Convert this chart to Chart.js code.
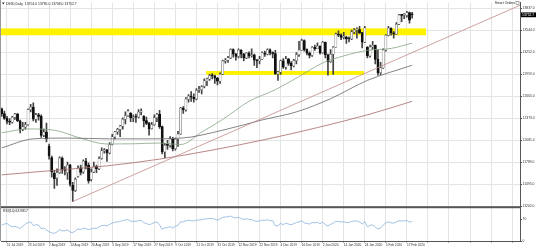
<!DOCTYPE html>
<html>
<head>
<meta charset="utf-8">
<script src="https://cdn.jsdelivr.net/npm/chart.js@4.4.1/dist/chart.umd.min.js"></script>
<style>
  html, body { margin: 0; padding: 0; background: #fff; }
  canvas { display: block; }
</style>
</head>
<body>
<canvas id="chart" width="536" height="250"></canvas>
<script>
// DE30 daily candles, 9 Jul 2019 .. 19 Feb 2020 (bar index 0..156)
const opens = [
  12500, 12437, 12373, 12332, 12323, 12387, 12430, 12341, 12227, 12260,
  12289, 12490, 12522, 12362, 12419, 12400, 12147, 12189, 12000, 11850,
  11640, 11580, 11650, 11840, 11693, 11650, 11750, 11480, 11412, 11600,
  11715, 11660, 11802, 11747, 11560, 11658, 11731, 11701, 11838, 11939,
  11953, 11911, 12025, 12126, 12192, 12226, 12269, 12360, 12410, 12440,
  12381, 12390, 12389, 12457, 12400, 12342, 12307, 12234, 12289, 12381,
  12428, 12263, 11925, 12014, 12013, 12097, 11970, 12094, 12164, 12511,
  12486, 12629, 12670, 12654, 12633, 12748, 12754, 12798, 12872, 12895,
  12942, 12939, 12910, 12867, 12961, 13136, 13148, 13179, 13289, 13228,
  13198, 13283, 13230, 13180, 13242, 13207, 13221, 13148, 13137, 13163,
  13246, 13227, 13287, 13245, 13236, 12965, 12989, 13140, 13055, 13167,
  13106, 13071, 13142, 13222, 13283, 13408, 13288, 13242, 13212, 13319,
  13301, 13337, 13249, 13386, 13219, 13127, 13227, 13321, 13495, 13483,
  13452, 13456, 13432, 13430, 13526, 13548, 13555, 13515, 13389, 13320,
  13205, 13324, 13345, 13158, 12982, 13046, 13282, 13479, 13575, 13514,
  13494, 13627, 13750, 13745, 13745, 13784, 13754
];
const highs = [
  12510, 12470, 12400, 12370, 12400, 12440, 12440, 12350, 12320, 12320,
  12500, 12560, 12580, 12440, 12440, 12420, 12230, 12310, 12030, 11870,
  11680, 11700, 11860, 11860, 11730, 11790, 11760, 11520, 11580, 11740,
  11750, 11820, 11840, 11780, 11700, 11790, 11750, 11860, 11980, 11970,
  11960, 12050, 12160, 12200, 12240, 12280, 12380, 12460, 12490, 12450,
  12420, 12430, 12490, 12500, 12410, 12390, 12320, 12320, 12420, 12440,
  12480, 12270, 12040, 12080, 12130, 12120, 12110, 12200, 12520, 12530,
  12650, 12690, 12730, 12700, 12770, 12800, 12810, 12900, 12910, 12960,
  12970, 12950, 12920, 12980, 13150, 13170, 13200, 13300, 13300, 13240,
  13300, 13290, 13240, 13250, 13260, 13300, 13230, 13160, 13200, 13260,
  13270, 13300, 13300, 13260, 13280, 13000, 13150, 13170, 13200, 13170,
  13130, 13160, 13250, 13400, 13430, 13420, 13300, 13260, 13330, 13350,
  13380, 13340, 13400, 13390, 13230, 13290, 13330, 13510, 13540, 13500,
  13520, 13470, 13460, 13550, 13570, 13580, 13600, 13520, 13600, 13330,
  13350, 13400, 13350, 13290, 13120, 13300, 13490, 13600, 13580, 13530,
  13650, 13760, 13760, 13770, 13800, 13790, 13785
];
const lows = [
  12400, 12360, 12300, 12290, 12310, 12360, 12330, 12180, 12210, 12230,
  12280, 12460, 12340, 12320, 12350, 12120, 12130, 12060, 11830, 11590,
  11440, 11480, 11640, 11640, 11620, 11560, 11470, 11265, 11400, 11590,
  11620, 11640, 11700, 11510, 11540, 11650, 11650, 11690, 11830, 11910,
  11800, 11900, 12020, 12100, 12160, 12130, 12230, 12300, 12400, 12330,
  12330, 12320, 12380, 12420, 12260, 12290, 12150, 12230, 12280, 12330,
  12240, 11900, 11850, 11960, 11990, 11940, 11950, 12000, 12160, 12440,
  12470, 12590, 12600, 12590, 12620, 12720, 12700, 12780, 12810, 12880,
  12900, 12840, 12820, 12840, 12960, 13110, 13120, 13170, 13190, 13150,
  13180, 13180, 13140, 13170, 13180, 13190, 13080, 13050, 13100, 13160,
  13200, 13220, 13220, 13180, 12960, 12880, 12960, 13040, 13030, 13080,
  13020, 13060, 13100, 13200, 13280, 13270, 13220, 13180, 13200, 13280,
  13300, 13230, 13240, 13180, 12950, 13120, 12960, 13320, 13460, 13420,
  13430, 13370, 13390, 13420, 13500, 13440, 13500, 13310, 13380, 13180,
  13190, 13290, 13100, 12950, 12960, 13040, 13270, 13470, 13480, 13440,
  13490, 13620, 13660, 13700, 13720, 13640, 13708
];
const closes = [
  12437, 12373, 12332, 12323, 12387, 12430, 12341, 12227, 12260, 12289,
  12490, 12522, 12362, 12419, 12400, 12147, 12189, 12100, 11872, 11658,
  11568, 11650, 11845, 11693, 11679, 11750, 11493, 11412, 11562, 11715,
  11652, 11802, 11747, 11540, 11658, 11731, 11701, 11838, 11939, 11953,
  11911, 12025, 12126, 12192, 12226, 12269, 12360, 12410, 12469, 12381,
  12390, 12389, 12457, 12468, 12342, 12307, 12234, 12289, 12381, 12428,
  12263, 11925, 12014, 12013, 12097, 11970, 12094, 12164, 12511, 12486,
  12629, 12670, 12654, 12633, 12748, 12754, 12798, 12872, 12895, 12942,
  12939, 12910, 12867, 12961, 13136, 13148, 13179, 13289, 13228, 13198,
  13283, 13230, 13180, 13242, 13207, 13221, 13148, 13137, 13163, 13246,
  13227, 13287, 13245, 13236, 12965, 12989, 13140, 13055, 13167, 13106,
  13071, 13142, 13222, 13283, 13408, 13288, 13242, 13212, 13319, 13301,
  13337, 13249, 13386, 13219, 13127, 13227, 13321, 13495, 13483, 13452,
  13456, 13432, 13430, 13526, 13548, 13555, 13515, 13389, 13577, 13205,
  13324, 13345, 13158, 12982, 13046, 13282, 13479, 13575, 13514, 13494,
  13627, 13750, 13745, 13745, 13784, 13681, 13752.7
];

const rsi = [
  52, 55, 57, 50, 46, 48, 44, 41, 48, 55,
  60, 62, 50, 53, 52, 40, 42, 36, 30, 26,
  25, 29, 37, 33, 33, 36, 29, 27, 33, 39,
  37, 42, 40, 37, 39, 42, 41, 46, 50, 51,
  49, 54, 58, 61, 62, 63, 67, 68, 70, 64,
  64, 64, 66, 67, 59, 57, 53, 56, 60, 62,
  52, 38, 43, 43, 47, 42, 48, 51, 63, 62,
  66, 67, 66, 65, 68, 68, 69, 71, 72, 73,
  73, 71, 68, 72, 77, 78, 79, 81, 77, 75,
  77, 73, 70, 72, 70, 70, 65, 64, 65, 68,
  67, 69, 66, 66, 49, 50, 57, 53, 58, 55,
  53, 56, 60, 62, 66, 59, 57, 55, 60, 59,
  61, 56, 62, 53, 49, 54, 58, 64, 63, 62,
  62, 60, 60, 64, 65, 65, 62, 55, 63, 46,
  51, 52, 45, 39, 42, 52, 59, 62, 59, 58,
  62, 66, 65, 65, 67, 61, 64
];

// moving averages, read at a few bars
const ma50X = [0, 10, 20, 30, 40, 50, 60, 68, 76, 84, 94, 104, 113, 122, 130, 139, 148, 156];
const ma50Y = [12180, 12232, 12215, 12109, 12031, 12034, 12044, 12024, 12190, 12359, 12600, 12755, 12930, 13111, 13205, 13279, 13305, 13376];
const ma100X = [0, 12, 25, 41, 55, 68, 84, 99, 112, 125, 139, 156];
const ma100Y = [11980, 12100, 12110, 12100, 12100, 12109, 12215, 12352, 12459, 12635, 12879, 13081];
const ma200X = [0, 20, 40, 60, 80, 100, 120, 140, 156];
const ma200Y = [11620, 11680, 11740, 11830, 11950, 12090, 12250, 12430, 12600];

// drawn objects: trend line and the two yellow zones
const trendX = [27, 197];
const trendY = [11265, 13880];
const zoneFrom = [-1, 77.7];
const zoneTo = [161.3, 137.7];
const zoneLow = [13480, 12952];
const zoneHigh = [13572, 13004];

// axes
const priceTicks = [13837, 13690, 13544, 13397, 13252, 13105, 12959, 12813, 12665, 12519,
  12373, 12226, 12081, 11935, 11789, 11641, 11495, 11349, 11202];
const rsiTicks = [0, 30, 70, 100];
const xTickLabels = ['11 Jul 2019', '23 Jul 2019', '2 Aug 2019', '14 Aug 2019', '26 Aug 2019',
  '5 Sep 2019', '17 Sep 2019', '27 Sep 2019', '9 Oct 2019', '21 Oct 2019', '31 Oct 2019',
  '12 Nov 2019', '22 Nov 2019', '4 Dec 2019', '16 Dec 2019', '2 Jan 2020', '14 Jan 2020',
  '24 Jan 2020', '5 Feb 2020', '17 Feb 2020'];
const xTickFirst = 2;
const xTickStep = 8;
const xGridCount = 25;

const titleText = 'DE30,Daily  13754.0 13785.0 13708.0 13752.7';
const rsiTitle = 'RSI(14) 63.9817';

Chart.defaults.font.family = 'Liberation Sans';
Chart.defaults.color = '#333';

const gridColor = '#e4e4e4';
const frameColor = '#555';
const last = closes.length - 1;

const points = (xs, ys) => xs.map((x, i) => ({ x: x, y: ys[i] }));
const isUp = i => closes[i] >= opens[i];

const overlay = {
  id: 'overlay',
  beforeDatasetsDraw(chart) {
    const { ctx, chartArea } = chart;
    const x = chart.scales.x, y = chart.scales.y;
    ctx.save();
    ctx.fillStyle = '#fff200';
    zoneLow.forEach((lo, k) => {
      const x0 = Math.max(x.getPixelForValue(zoneFrom[k]), chartArea.left);
      const x1 = x.getPixelForValue(zoneTo[k]);
      const y0 = y.getPixelForValue(zoneHigh[k]);
      const y1 = y.getPixelForValue(lo);
      ctx.fillRect(x0, y0, x1 - x0, y1 - y0);
    });
    ctx.restore();
  },
  afterDraw(chart) {
    const { ctx, chartArea: a } = chart;
    const y = chart.scales.y, yr = chart.scales.yr;
    ctx.save();
    // separator between the price pane and the RSI pane
    ctx.fillStyle = frameColor;
    ctx.fillRect(a.left, y.bottom - 1, a.right - a.left, 2);
    ctx.fillStyle = '#999';
    ctx.fillRect(0, 0, 1, a.bottom);

    ctx.font = '3.4px "Liberation Sans"';
    ctx.textBaseline = 'middle';
    ctx.fillStyle = '#222';
    ctx.beginPath();
    ctx.moveTo(2, 2.5); ctx.lineTo(4.6, 2.5); ctx.lineTo(3.3, 4.6);
    ctx.fill();
    ctx.fillText(titleText, 6, 3.6);
    ctx.fillText(rsiTitle, 3, yr.top + 3.5);

    ctx.textAlign = 'right';
    ctx.fillText('Smart Orders', a.right - 5, 3.4);
    ctx.strokeStyle = '#777';
    ctx.lineWidth = 0.6;
    ctx.strokeRect(a.right - 4, 1.3, 3, 3);

    // current price tag
    const py = y.getPixelForValue(closes[last]);
    ctx.fillStyle = '#000';
    ctx.fillRect(a.right + 1, py - 2.4, 16, 4.8);
    ctx.fillStyle = '#fff';
    ctx.textAlign = 'left';
    ctx.fillText(closes[last].toFixed(1), a.right + 2, py + 0.2);
    ctx.restore();
  }
};

new Chart(document.getElementById('chart'), {
  type: 'bar',
  data: {
    datasets: [
      {
        label: 'wicks',
        data: closes.map((c, i) => ({ x: i, y: [lows[i], highs[i]] })),
        backgroundColor: '#444',
        barThickness: 1,
        grouped: false,
        order: 3
      },
      {
        label: 'bodies',
        data: closes.map((c, i) => ({ x: i, y: [opens[i], closes[i]] })),
        backgroundColor: ctx => isUp(ctx.dataIndex) ? '#fcfcfc' : '#111',
        borderColor: ctx => isUp(ctx.dataIndex) ? '#555' : '#111',
        borderWidth: 0.5,
        borderSkipped: false,
        barThickness: 2.2,
        minBarLength: 1,
        grouped: false,
        order: 2
      },
      {
        type: 'line', label: 'SMA200', data: points(ma200X, ma200Y),
        borderColor: '#a86868', borderWidth: 0.8, pointRadius: 0,
        cubicInterpolationMode: 'monotone', order: 1
      },
      {
        type: 'line', label: 'SMA100', data: points(ma100X, ma100Y),
        borderColor: '#666', borderWidth: 0.8, pointRadius: 0,
        cubicInterpolationMode: 'monotone', order: 1
      },
      {
        type: 'line', label: 'SMA50', data: points(ma50X, ma50Y),
        borderColor: '#86a486', borderWidth: 0.8, pointRadius: 0,
        cubicInterpolationMode: 'monotone', order: 1
      },
      {
        type: 'line', label: 'trend', data: points(trendX, trendY),
        borderColor: '#c48a8a', borderWidth: 0.8, pointRadius: 0, order: 0
      },
      {
        type: 'line', label: 'RSI', yAxisID: 'yr',
        data: rsi.map((v, i) => ({ x: i, y: v })),
        borderColor: '#8cb3dd', borderWidth: 0.8, pointRadius: 0, order: 0
      }
    ]
  },
  options: {
    responsive: false,
    animation: false,
    devicePixelRatio: 1,
    layout: { padding: { left: 1, top: 1, right: 0, bottom: 0 } },
    plugins: { legend: { display: false }, tooltip: { enabled: false } },
    scales: {
      x: {
        type: 'linear',
        min: -0.28,
        max: 197,
        offset: false,
        grid: { color: gridColor, offset: false, tickLength: 1.5, tickColor: frameColor },
        border: { color: frameColor },
        afterFit: s => { s.height = 9; },
        afterBuildTicks: s => {
          s.ticks = Array.from({ length: xGridCount }, (_, k) => ({ value: xTickFirst + k * xTickStep }));
        },
        ticks: {
          autoSkip: false, maxRotation: 0, minRotation: 0,
          align: 'start', padding: 0.5,
          font: { size: 3.2 }, color: '#333',
          callback: v => xTickLabels[(v - xTickFirst) / xTickStep] || ''
        }
      },
      y: {
        position: 'right',
        stack: 'panes',
        stackWeight: 206,
        min: 11188.8,
        max: 13916.4,
        grid: { color: gridColor, tickLength: 2, tickColor: frameColor },
        border: { color: frameColor },
        afterFit: s => { s.width = 16; },
        afterBuildTicks: s => { s.ticks = priceTicks.map(v => ({ value: v })); },
        ticks: {
          padding: 0.5, font: { size: 3.4 }, color: '#333',
          callback: v => v.toFixed(1)
        }
      },
      yr: {
        position: 'right',
        stack: 'panes',
        stackWeight: 34,
        min: 0,
        max: 109.7,
        grid: { display: true, drawOnChartArea: false, tickLength: 2, tickColor: frameColor },
        border: { color: frameColor },
        afterFit: s => { s.width = 16; },
        afterBuildTicks: s => { s.ticks = rsiTicks.map(v => ({ value: v })); },
        ticks: { padding: 0.5, font: { size: 3.4 }, color: '#333' }
      }
    }
  },
  plugins: [overlay]
});
</script>
</body>
</html>
